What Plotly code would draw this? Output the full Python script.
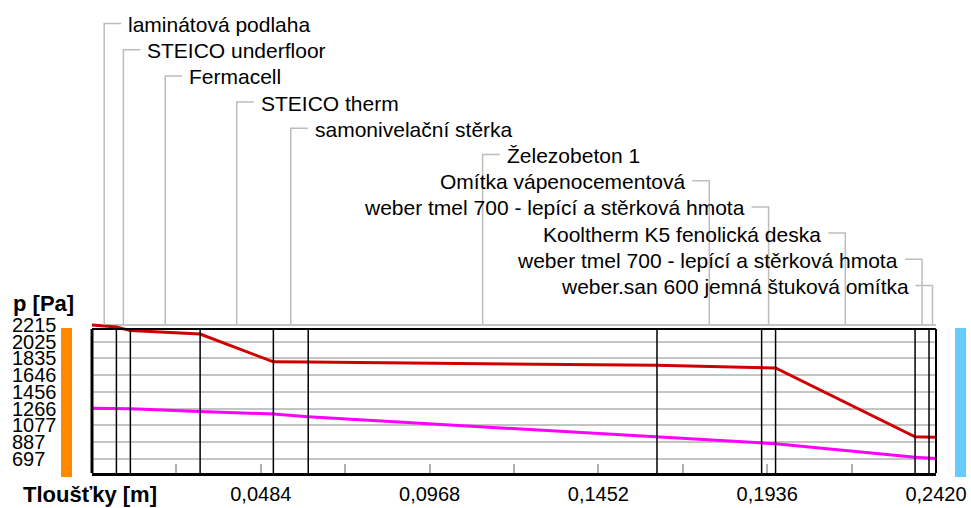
import numpy as np
import plotly.graph_objects as go

# ---------------- data ----------------
layers = ["laminátová podlaha", "STEICO underfloor", "Fermacell", "STEICO therm",
          "samonivelační stěrka", "Železobeton 1", "Omítka vápenocementová",
          "weber tmel 700 - lepící a stěrková hmota", "Kooltherm K5 fenolická deska",
          "weber tmel 700 - lepící a stěrková hmota", "weber.san 600 jemná štuková omítka"]
thickness = [0.007, 0.004, 0.020, 0.021, 0.010, 0.100, 0.030, 0.004, 0.040, 0.004, 0.002]
text_right_of_leader = [True, True, True, True, True, True, False, False, False, False, False]

# pressures at interfaces (12 points: surface + 11 boundaries)
p_sat = [2215, 2192, 2152, 2112, 1797, 1795, 1757, 1732, 1727, 945, 941, 939]
p_vap = [1270, 1268, 1264, 1233, 1203, 1172, 945, 882, 866, 712, 705, 699]

y_ticks = [2215, 2025, 1835, 1646, 1456, 1266, 1077, 887, 697]
x_tick_step = 0.0242
x_tick_labels = ["0,0484", "0,0968", "0,1452", "0,1936", "0,2420"]

# ---------------- layout constants ----------------
W, H = 971, 508
L, R, T, B = 92, 35, 318, 35
PW, PH = W - L - R, H - T - B
Y_RANGE = [533, 2295]
BOX_TOP = 2170
FONT = "Liberation Sans, Arial, sans-serif"

bounds = np.concatenate([[0.0], np.cumsum(thickness)])
x_total = bounds[-1]
centers = (bounds[:-1] + bounds[1:]) / 2


def py(ypx):
    return (H - B - ypx) / PH


def yv2paper(v):
    return (v - Y_RANGE[0]) / (Y_RANGE[1] - Y_RANGE[0])


def px2paper_x(xpx):
    return (xpx - L) / PW


fig = go.Figure()
fig.add_trace(go.Scatter(x=bounds, y=p_sat, mode="lines",
                         line=dict(color="#d00000", width=3), showlegend=False))
fig.add_trace(go.Scatter(x=bounds, y=p_vap, mode="lines",
                         line=dict(color="#ff00ff", width=3), showlegend=False))

shapes = []
annotations = []

# box
box_top_p = yv2paper(BOX_TOP)
shapes.append(dict(type="line", xref="paper", yref="paper", x0=0, x1=0, y0=0, y1=box_top_p,
                   line=dict(color="black", width=3)))
shapes.append(dict(type="line", xref="paper", yref="paper", x0=1, x1=1, y0=0, y1=box_top_p,
                   line=dict(color="black", width=2)))
shapes.append(dict(type="line", xref="paper", yref="paper", x0=0, x1=1, y0=box_top_p, y1=box_top_p,
                   line=dict(color="black", width=2)))

# layer boundaries
for b in bounds[1:-1]:
    shapes.append(dict(type="line", xref="x", yref="paper", x0=b, x1=b, y0=0, y1=box_top_p,
                       line=dict(color="black", width=1.5)))

# leaders and labels
dx = 17 / PW * x_total
y_top_grid = yv2paper(y_ticks[0])
for i, (name, xc, right) in enumerate(zip(layers, centers, text_right_of_leader)):
    yrow = 23.5 + 26.2 * i
    yr = py(yrow)
    x2 = xc + dx if right else xc - dx
    shapes.append(dict(type="path", xref="x", yref="paper",
                       path=f"M {xc},{y_top_grid} L {xc},{yr} L {x2},{yr}",
                       line=dict(color="#bdbdbd", width=1.5)))
    annotations.append(dict(text=name, x=xc, xref="x", y=py(yrow + 1), yref="paper",
                            xanchor="left" if right else "right", yanchor="middle",
                            xshift=22 if right else -22, showarrow=False,
                            font=dict(family=FONT, size=21, color="black")))

# y labels (left aligned)
for v in y_ticks:
    annotations.append(dict(text=str(v), x=px2paper_x(10), xref="paper", y=v, yref="y",
                            xanchor="left", yanchor="middle", showarrow=False,
                            font=dict(family=FONT, size=20, color="black")))

annotations.append(dict(text="<b>p [Pa]</b>", x=px2paper_x(11), xref="paper", y=py(303), yref="paper",
                        xanchor="left", yanchor="middle", showarrow=False,
                        font=dict(family=FONT, size=22, color="black")))
annotations.append(dict(text="<b>Tloušťky [m]</b>", x=px2paper_x(21), xref="paper", y=py(494), yref="paper",
                        xanchor="left", yanchor="middle", showarrow=False,
                        font=dict(family=FONT, size=22, color="black")))

# side colour bars
shapes.append(dict(type="rect", xref="paper", yref="paper",
                   x0=px2paper_x(61), x1=px2paper_x(72), y0=py(477), y1=py(328),
                   fillcolor="#ff8800", line=dict(width=0)))
shapes.append(dict(type="rect", xref="paper", yref="paper",
                   x0=px2paper_x(955), x1=px2paper_x(966), y0=py(477), y1=py(328),
                   fillcolor="#66ccff", line=dict(width=0)))

n_ticks = int(round(x_total / x_tick_step))
tickvals = [x_tick_step * k for k in range(n_ticks + 1)]
ticktext = []
for k in range(n_ticks + 1):
    if k > 0 and k % 2 == 0:
        ticktext.append(x_tick_labels[k // 2 - 1])
    else:
        ticktext.append("")

fig.update_layout(
    width=W, height=H,
    margin=dict(l=L, r=R, t=T, b=B, autoexpand=False),
    paper_bgcolor="white", plot_bgcolor="white",
    shapes=shapes, annotations=annotations,
    xaxis=dict(range=[0, x_total], tickvals=tickvals, ticktext=ticktext,
               ticks="inside", ticklen=9, tickwidth=1.5, tickcolor="#b0b0b0",
               showgrid=False, zeroline=False, showline=True, linecolor="black", linewidth=3,
               tickfont=dict(family=FONT, size=20, color="black"), ticklabelstandoff=1,
               automargin=False),
    yaxis=dict(range=Y_RANGE, tickvals=y_ticks, showticklabels=False, ticks="",
               showgrid=True, gridcolor="#c4c4c4", gridwidth=1.5, zeroline=False, showline=False,
               automargin=False),
)

fig.write_html("out.html", config={"displayModeBar": False},
               post_script="document.body.style.margin='0';document.body.style.overflow='hidden';")
